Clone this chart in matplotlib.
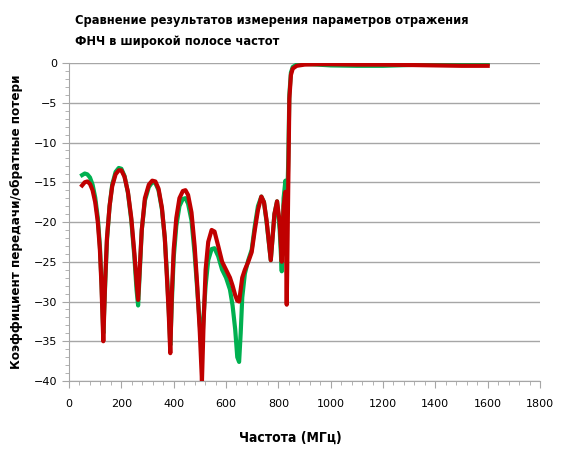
import matplotlib
matplotlib.use("Agg")
import matplotlib.pyplot as plt
from matplotlib.ticker import MultipleLocator

# frequency points, MHz
freq = [50, 60, 70, 80, 90, 100, 110, 118, 124, 131, 138, 145, 155, 165, 178, 190, 200,
        212, 225, 238, 250, 258, 264, 270, 278, 290, 305, 318, 330, 342, 355, 366, 375,
        381, 387, 393, 400, 410, 422, 435, 445, 455, 468, 480, 490, 500, 508, 514, 522,
        532, 545, 556, 570, 585, 600, 615, 625, 635, 643, 650, 656, 662, 672, 685, 698,
        710, 722, 735, 745, 755, 771, 785, 795, 805, 813, 820, 827, 832, 838, 842, 848,
        855, 870, 900, 950, 1000, 1100, 1200, 1300, 1400, 1500, 1600]

# measured (green)
meas_green = [-14.1, -13.9, -14.0, -14.4, -15.3, -16.9, -19.5, -23.0, -27.5, -34.0, -28.0, -22.3,
              -18.0, -15.3, -13.7, -13.2, -13.3, -14.2, -16.3, -19.8, -24.5, -28.5, -30.5, -26.5,
              -21.0, -17.3, -15.6, -15.0, -15.1, -16.0, -18.4, -22.0, -27.0, -31.0, -35.5, -30.0,
              -24.5, -20.5, -18.0, -17.1, -17.0, -17.7, -19.8, -24.0, -28.5, -33.0, -36.0, -32.0,
              -28.0, -24.8, -23.4, -23.3, -24.3, -26.0, -27.0, -28.5, -30.5, -33.5, -37.0, -37.6,
              -34.0, -29.5, -26.5, -24.8, -23.5, -20.5, -18.0, -16.8, -17.5, -20.0, -24.8, -19.0,
              -17.4, -21.0, -26.2, -17.0, -14.8, -20.0, -12.0, -4.0, -1.2, -0.5, -0.2, -0.1,
              -0.2, -0.3, -0.35, -0.35, -0.25, -0.15, -0.1, -0.1]

# simulated (red)
meas_red = [-15.4, -15.0, -14.9, -15.2, -16.0, -17.5, -20.0, -23.5, -28.0, -35.0, -27.5, -22.0,
            -18.0, -15.5, -14.0, -13.5, -13.5, -14.3, -16.2, -19.5, -24.0, -27.5, -29.8, -26.0,
            -21.0, -17.0, -15.3, -14.8, -14.9, -15.8, -18.2, -22.0, -27.5, -31.5, -36.5, -29.0,
            -23.5, -19.5, -17.0, -16.1, -16.0, -16.6, -18.8, -23.0, -28.0, -34.0, -40.0, -33.0,
            -26.0, -22.5, -21.0, -21.2, -23.0, -25.0, -26.0, -27.0, -28.0, -29.2, -29.9, -30.0,
            -28.5, -27.0, -26.0, -25.0, -23.8, -21.0, -18.5, -16.8, -17.5, -19.8, -24.8, -19.0,
            -17.4, -20.0, -25.0, -18.0, -16.2, -30.4, -15.0, -4.5, -1.5, -0.7, -0.35, -0.2,
            -0.15, -0.15, -0.2, -0.2, -0.25, -0.3, -0.35, -0.35]

x_ticks = [0, 200, 400, 600, 800, 1000, 1200, 1400, 1600, 1800]
y_ticks = [0, -5, -10, -15, -20, -25, -30, -35, -40]

title_text = "Сравнение результатов измерения параметров отражения\nФНЧ в широкой полосе частот"
x_label = "Частота (МГц)"
y_label = "Коэффициент передачи/обратные потери"

fig = plt.figure(figsize=(5.63, 4.57), dpi=100)
ax = fig.add_axes([0.1226, 0.1663, 0.8366, 0.6958])

ax.plot(freq, meas_green, color="#00B050", lw=3.0, solid_joinstyle="round", zorder=3)
ax.plot(freq, meas_red, color="#C00000", lw=3.0, solid_joinstyle="round", zorder=4)

ax.set_xlim(0, 1800)
ax.set_ylim(-40, 0)
ax.set_xticks(x_ticks)
ax.set_yticks(y_ticks)
ax.xaxis.set_minor_locator(MultipleLocator(40))
ax.yaxis.set_minor_locator(MultipleLocator(1))
ax.grid(axis="y", color="#A6A6A6", lw=1)
ax.set_axisbelow(True)

for s in ["top", "right"]:
    ax.spines[s].set_visible(False)
for s in ["left", "bottom"]:
    ax.spines[s].set_color("#A6A6A6")
ax.tick_params(which="major", length=5, color="#A6A6A6", labelsize=8, labelcolor="black")
ax.tick_params(which="minor", length=3, color="#A6A6A6")
ax.tick_params(axis="x", pad=8)

cond = dict(family="DejaVu Sans", fontstretch="condensed", fontweight="bold")
fig.text(0.133, 0.969, title_text, ha="left", va="top", fontsize=9.2,
         linespacing=1.8, **cond)
fig.text(0.515, 0.043, x_label, ha="center", va="center", fontsize=10, **cond)
fig.text(0.03, 0.514, y_label, ha="center", va="center", rotation=90, fontsize=9.6, **cond)

fig.savefig("out.png", dpi=100)
